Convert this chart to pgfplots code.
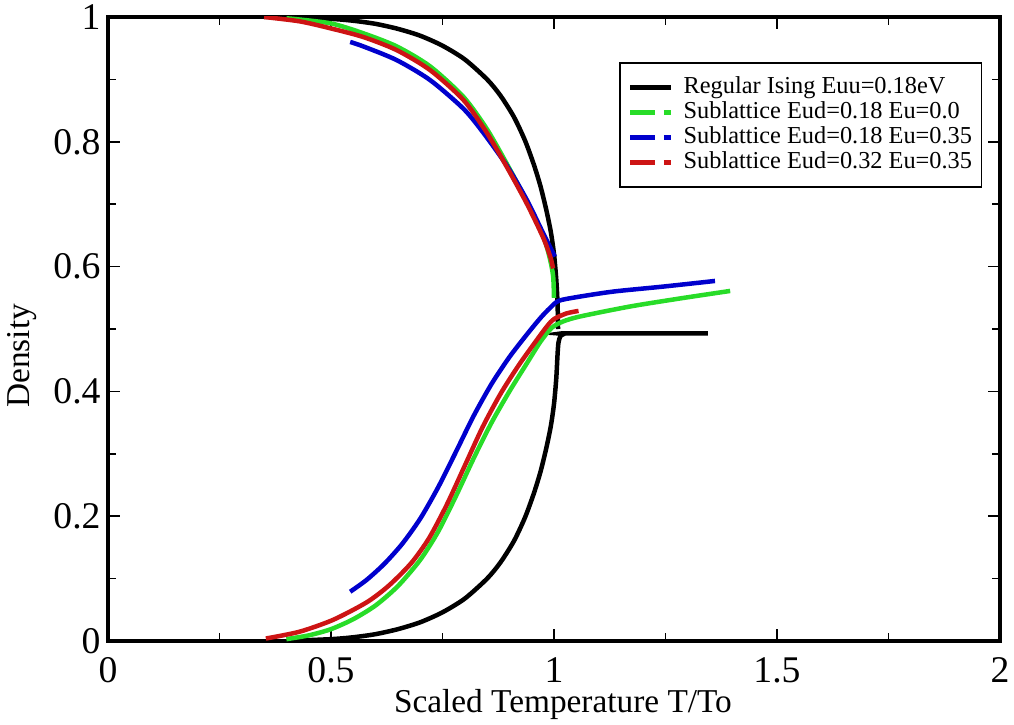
\documentclass[border=0pt]{standalone}
\usepackage{fontspec}
\setmainfont{Liberation Serif}
\usepackage{pgfplots}
\pgfplotsset{compat=1.18}

\definecolor{cgreen}{RGB}{40,220,40}
\definecolor{cblue}{RGB}{0,0,205}
\definecolor{cred}{RGB}{205,20,20}

\begin{document}
\begin{tikzpicture}
\path[use as bounding box] (-32.4pt,-24.9pt) rectangle (271.8pt,192.3pt);
\begin{axis}[
    scale only axis,
    width=267.6pt, height=187.2pt,
    xmin=0, xmax=2, ymin=0, ymax=1,
    xtick={0,0.5,1,1.5,2},
    ytick={0,0.2,0.4,0.6,0.8,1},
    minor x tick num=1, minor y tick num=1,
    tick align=inside,
    major tick length=3.6pt, minor tick length=2.4pt,
    every tick/.style={black, line width=0.5pt},
    axis line style={line width=1.1pt},
    /pgf/number format/assume math mode=true,
    tick label style={font=\fontsize{11.3}{12}\selectfont},
    xticklabel style={yshift=-1.5pt},
    yticklabel style={xshift=1.3pt},
    label style={font=\fontsize{11.8}{13}\selectfont},
    xlabel={Scaled Temperature T/To},
    ylabel={Density},
    every axis x label/.style={at={(axis description cs:0.51,-0.1138)}, anchor=base},
    every axis y label/.style={at={(axis description cs:-0.0964,0.457)}, rotate=90, anchor=center},
    legend cell align=left,
    legend image code/.code={\draw[#1] (0pt,0pt) -- (12.3pt,0pt);},
    legend style={at={(axis description cs:0.98,0.928)}, anchor=north east,
        draw=black, line width=0.5pt, inner xsep=2.4pt, inner ysep=3.6pt,
        column sep=2.6pt, row sep=0pt,
        font=\fontsize{7.3}{8}\selectfont,
        nodes={inner sep=0.4pt, text height=5.1pt, text depth=1.6pt}},
    every axis plot/.append style={line width=1.35pt, smooth, tension=0.45},
]

% Regular Ising
\addplot[black] coordinates {
(0.35,1.000) (0.40,1.000) (0.50,0.997) (0.55,0.994) (0.60,0.989)
(0.65,0.981) (0.70,0.970) (0.75,0.954) (0.80,0.932) (0.85,0.900)
(0.88,0.874) (0.91,0.840) (0.935,0.802) (0.955,0.763) (0.970,0.728)
(0.983,0.690) (0.993,0.655) (1.000,0.620) (1.005,0.580) (1.008,0.540)
(1.009,0.500)
};
\addlegendentry{Regular Ising Euu=0.18eV}
\addplot[black, forget plot] coordinates {
(0.40,0.000) (0.50,0.003) (0.55,0.006) (0.60,0.011) (0.65,0.019)
(0.70,0.030) (0.75,0.046) (0.80,0.068) (0.85,0.100) (0.88,0.126)
(0.91,0.160) (0.935,0.198) (0.955,0.237) (0.970,0.272) (0.983,0.310)
(0.993,0.345) (1.000,0.380) (1.005,0.420) (1.008,0.460) (1.010,0.478)
(1.014,0.488) (1.022,0.492) (1.035,0.493) (1.345,0.493)
};

% Sublattice Eud=0.18 Eu=0.0
\addplot[cgreen, legend image post style={dash pattern=on 7.5pt off 2.5pt on 2.3pt off 3pt}] coordinates {
(0.40,0.998) (0.498,0.990) (0.572,0.974) (0.647,0.953) (0.722,0.921)
(0.797,0.872) (0.849,0.821) (0.894,0.765) (0.939,0.705) (0.976,0.648)
(0.990,0.615) (0.998,0.585) (1.000,0.550)
};
\addlegendentry{Sublattice Eud=0.18 Eu=0.0}
\addplot[cgreen, forget plot] coordinates {
(0.40,0.003) (0.45,0.009) (0.50,0.019) (0.55,0.035) (0.60,0.057)
(0.65,0.088) (0.70,0.130) (0.74,0.175) (0.78,0.232) (0.82,0.293)
(0.86,0.350) (0.90,0.400) (0.94,0.446) (0.97,0.480) (0.995,0.502)
(1.02,0.512) (1.058,0.520) (1.170,0.536) (1.283,0.549) (1.395,0.561)
};

% Sublattice Eud=0.18 Eu=0.35
\addplot[cblue, legend image post style={dash pattern=on 7.5pt off 2.5pt on 2.3pt off 3pt}] coordinates {
(0.543,0.960) (0.572,0.953) (0.647,0.931) (0.722,0.899) (0.797,0.853)
(0.841,0.815) (0.894,0.762) (0.939,0.707) (0.976,0.653) (1.002,0.616)
};
\addlegendentry{Sublattice Eud=0.18 Eu=0.35}
\addplot[cblue, forget plot] coordinates {
(0.543,0.079) (0.58,0.098) (0.62,0.124) (0.66,0.156) (0.70,0.196)
(0.74,0.246) (0.78,0.303) (0.82,0.361) (0.86,0.412) (0.90,0.455)
(0.94,0.492) (0.97,0.518) (0.99,0.533) (1.01,0.545) (1.05,0.551)
(1.133,0.560) (1.245,0.568) (1.361,0.577)
};

% Sublattice Eud=0.32 Eu=0.35
\addplot[cred, legend image post style={dash pattern=on 7.5pt off 2.5pt on 2.3pt off 3pt}] coordinates {
(0.35,1.000) (0.43,0.993) (0.498,0.982) (0.572,0.968) (0.647,0.947)
(0.722,0.915) (0.797,0.867) (0.849,0.815) (0.894,0.760) (0.939,0.701)
(0.976,0.646) (0.992,0.615) (0.998,0.597)
};
\addlegendentry{Sublattice Eud=0.32 Eu=0.35}
\addplot[cred, forget plot] coordinates {
(0.354,0.004) (0.43,0.015) (0.505,0.034) (0.58,0.062) (0.63,0.089)
(0.68,0.125) (0.72,0.165) (0.76,0.219) (0.80,0.281) (0.84,0.343)
(0.88,0.396) (0.92,0.441) (0.96,0.481) (0.985,0.505) (1.000,0.516)
(1.028,0.525) (1.055,0.529)
};

\end{axis}
\end{tikzpicture}
\end{document}
